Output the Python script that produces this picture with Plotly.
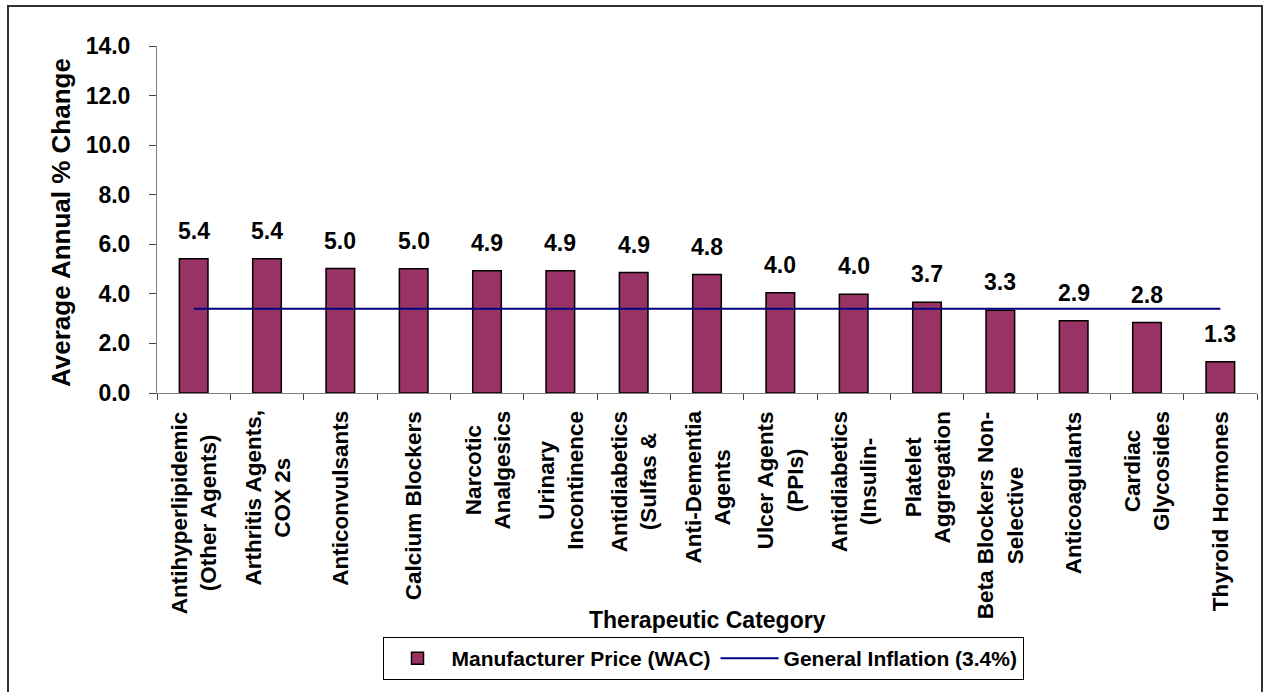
import plotly.graph_objects as go

categories = [
    "Antihyperlipidemic<br>(Other Agents)",
    "Arthritis Agents,<br>COX 2s",
    "Anticonvulsants",
    "Calcium Blockers",
    "Narcotic<br>Analgesics",
    "Urinary<br>Incontinence",
    "Antidiabetics<br>(Sulfas &",
    "Anti-Dementia<br>Agents",
    "Ulcer Agents<br>(PPIs)",
    "Antidiabetics<br>(Insulin-",
    "Platelet<br>Aggregation",
    "Beta Blockers Non-<br>Selective",
    "Anticoagulants",
    "Cardiac<br>Glycosides",
    "Thyroid Hormones",
]
wac_change = [5.42, 5.42, 5.02, 5.01, 4.93, 4.93, 4.86, 4.78, 4.04, 3.98, 3.66, 3.34, 2.91, 2.84, 1.26]
inflation = [3.4] * len(categories)

FONT = "Arial, Liberation Sans, sans-serif"
W, H = 1265, 692
L, R, T, B = 157, 1257, 46, 393  # plot area in px


def py(px):
    return (B - px) / (B - T)


def pxx(px):
    return (px - L) / (R - L)


fig = go.Figure()
fig.add_trace(go.Bar(
    x=categories, y=wac_change, name="Manufacturer Price (WAC)",
    marker=dict(color="#993366", line=dict(color="#000000", width=1.5)),
))
fig.add_trace(go.Scatter(
    x=categories, y=inflation, mode="lines", name="General Inflation (3.4%)",
    line=dict(color="#000080", width=2),
))

annotations = []
for c, v in zip(categories, wac_change):
    annotations.append(dict(
        x=c, xref="x", y=v, yref="y", text="<b>%.1f</b>" % v,
        showarrow=False, xanchor="center", yanchor="bottom", yshift=13,
        font=dict(family=FONT, size=23, color="#000000"),
    ))
for c in categories:
    annotations.append(dict(
        x=c, xref="x", y=py(409), yref="paper", text="<b>%s</b>" % c,
        textangle=-90, showarrow=False, xanchor="center", yanchor="top",
        align="center", font=dict(family=FONT, size=22.5, color="#000000"),
    ))
annotations.append(dict(
    x=pxx(707), xref="paper", y=py(620), yref="paper", text="<b>Therapeutic Category</b>",
    showarrow=False, xanchor="center", yanchor="middle",
    font=dict(family=FONT, size=23, color="#000000"),
))
annotations.append(dict(
    x=pxx(61), xref="paper", y=py(222), yref="paper", text="<b>Average Annual % Change</b>",
    textangle=-90, showarrow=False, xanchor="center", yanchor="middle",
    font=dict(family=FONT, size=26, color="#000000"),
))

fig.update_layout(
    width=W, height=H,
    margin=dict(l=L, r=W - R, t=T, b=H - B, autoexpand=False),
    paper_bgcolor="white", plot_bgcolor="white",
    font=dict(family=FONT, size=21, color="#000000"),
    bargap=0.61,
    showlegend=True,
    legend=dict(
        orientation="h", x=pxx(703), xanchor="center", y=py(637), yanchor="top",
        bordercolor="#000000", borderwidth=1, bgcolor="white",
        font=dict(family=FONT, size=21, color="#000000", weight="bold"),
        itemwidth=58, tracegroupgap=0,
    ),
    xaxis=dict(
        showticklabels=False, ticks="outside", tickson="boundaries", ticklen=6,
        tickcolor="#444444", showline=True, linecolor="#808080", linewidth=1,
        showgrid=False, zeroline=False,
    ),
    yaxis=dict(
        range=[0, 14], dtick=2, tickformat=".1f", ticks="outside", ticklen=7,
        tickcolor="#444444", showline=True, linecolor="#808080", linewidth=1,
        showgrid=False, zeroline=False, ticklabelstandoff=14,
        tickfont=dict(family=FONT, size=23, color="#000000", weight="bold"),
    ),
    annotations=annotations,
    shapes=[dict(
        type="rect", xref="paper", yref="paper",
        x0=pxx(8), x1=pxx(1262), y0=py(705), y1=py(6),
        line=dict(color="#333333", width=2), fillcolor="rgba(0,0,0,0)", layer="below",
    )],
)

fig.write_html(
    "out.html",
    config={"displayModeBar": False},
    post_script="document.body.style.margin='0';document.body.style.overflow='hidden';",
)
